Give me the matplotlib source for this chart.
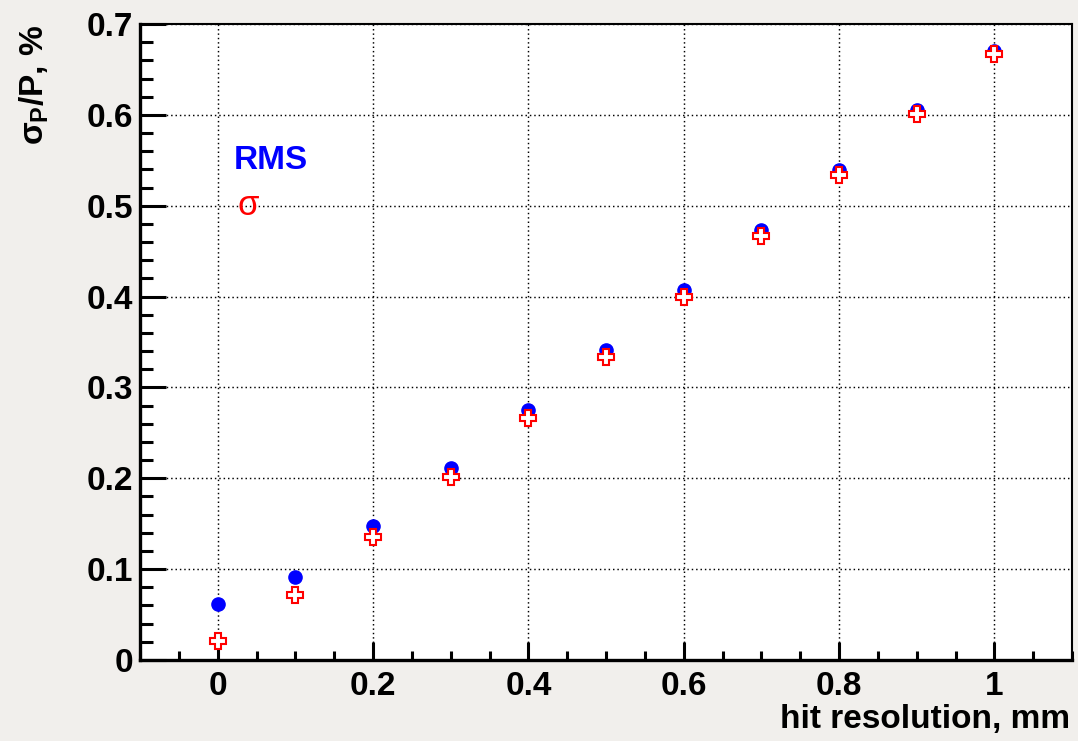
import matplotlib
matplotlib.use("Agg")
import matplotlib.pyplot as plt
from matplotlib.ticker import MultipleLocator, FuncFormatter

# Momentum resolution versus single-hit resolution
hit_res = [0.0, 0.1, 0.2, 0.3, 0.4, 0.5, 0.6, 0.7, 0.8, 0.9, 1.0]
rms = [0.062, 0.091, 0.148, 0.211, 0.275, 0.341, 0.407, 0.473, 0.539, 0.605, 0.670]
sigma = [0.021, 0.071, 0.135, 0.201, 0.266, 0.333, 0.400, 0.467, 0.534, 0.601, 0.667]

x_label = "hit resolution, mm"
y_label = r"$\sigma_{P}/P$, %"
rms_label = "RMS"
sigma_label = "σ"

plt.rcParams["font.family"] = ["Liberation Sans", "DejaVu Sans"]
plt.rcParams["font.weight"] = "bold"
plt.rcParams["mathtext.fontset"] = "custom"
plt.rcParams["mathtext.rm"] = "Liberation Sans:bold"
plt.rcParams["mathtext.it"] = "Liberation Sans:bold"
plt.rcParams["mathtext.bf"] = "Liberation Sans:bold"
plt.rcParams["mathtext.sf"] = "Liberation Sans:bold"

bg = "#f1efec"
fig = plt.figure(figsize=(10.78, 7.41), dpi=100, facecolor=bg)
ax = fig.add_axes([140 / 1078, 81 / 741, (1072 - 140) / 1078, (660 - 24) / 741])
ax.set_facecolor("white")

ax.set_xlim(-0.1, 1.1)
ax.set_ylim(0.0, 0.7)

ax.xaxis.set_major_locator(MultipleLocator(0.2))
ax.xaxis.set_minor_locator(MultipleLocator(0.05))
ax.yaxis.set_major_locator(MultipleLocator(0.1))
ax.yaxis.set_minor_locator(MultipleLocator(0.02))

fmt = FuncFormatter(lambda v, p: f"{v:g}" if abs(v) > 1e-9 else "0")
ax.xaxis.set_major_formatter(fmt)
ax.yaxis.set_major_formatter(fmt)

ax.grid(True, which="major", color="black", linestyle=(0, (1, 2.0)), linewidth=1.05)
ax.set_axisbelow(True)

ax.tick_params(axis="both", which="both", direction="in", top=False, right=False,
               labelsize=24, colors="black", width=2.2)
ax.tick_params(axis="x", which="major", length=13, pad=8)
ax.tick_params(axis="x", which="minor", length=6.5)
ax.tick_params(axis="y", which="major", length=19, pad=5)
ax.tick_params(axis="y", which="minor", length=9.5)
for lbl in ax.get_xticklabels() + ax.get_yticklabels():
    lbl.set_fontweight("bold")

for side, lw in (("left", 2.4), ("bottom", 2.4), ("top", 1.5), ("right", 1.5)):
    ax.spines[side].set_linewidth(lw)
    ax.spines[side].set_color("black")

ax.plot(hit_res, rms, linestyle="none", marker="o", markersize=9.5,
        color="#0000ff", markeredgecolor="#0000ff", zorder=3, clip_on=False)
ax.plot(hit_res, sigma, linestyle="none", marker="P", markersize=11,
        markerfacecolor="white", markeredgecolor="#ff0000", markeredgewidth=1.5,
        zorder=4, clip_on=False)

ax.text(0.021, 0.550, rms_label, color="#0000ff", fontsize=24, fontweight="bold",
        ha="left", va="center")
ax.text(0.039, 0.500, sigma_label, color="#ff0000", fontsize=25, fontweight="normal",
        ha="center", va="center")

fig.text(1070 / 1078, 1 - 728 / 741, x_label, fontsize=24, fontweight="bold",
         ha="right", va="baseline")
fig.text(34 / 1078, 1 - 25 / 741, y_label, fontsize=24, rotation=90,
         ha="center", va="top")

fig.savefig("out.png", dpi=100, facecolor=bg)
